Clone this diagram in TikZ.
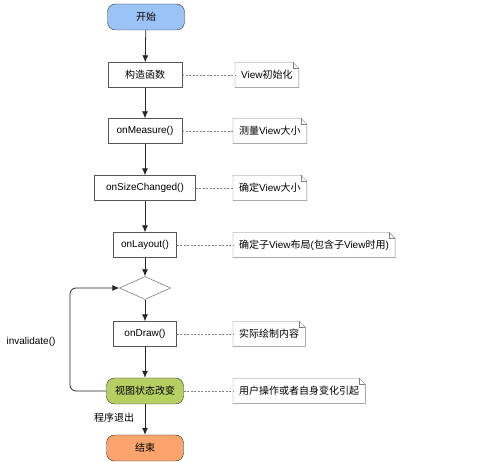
\documentclass[tikz,border=0pt]{standalone}
\usepackage{fontspec}
\setmainfont{Liberation Sans}
\newfontfamily\cjk{Noto Sans CJK SC}
\usetikzlibrary{arrows.meta,shapes.geometric}

\definecolor{startblue}{HTML}{9CC3F5}
\definecolor{changegreen}{HTML}{B5CF62}
\definecolor{endorange}{HTML}{F8A46C}
\definecolor{linegray}{HTML}{555555}

\tikzset{
  box/.style={draw=linegray, rectangle, minimum height=25pt, inner sep=2pt},
  pill/.style={draw=black!80, rounded corners=8pt, minimum width=77pt,
    minimum height=26pt},
  note/.style={anchor=west, minimum height=25pt, inner sep=0pt, inner xsep=6pt,
    append after command={\pgfextra{
      \draw[draw=gray]
        (\tikzlastnode.south west) -- (\tikzlastnode.north west)
        -- ([xshift=-6pt]\tikzlastnode.north east)
        -- ([yshift=-6pt]\tikzlastnode.north east)
        -- (\tikzlastnode.south east) -- cycle;
      \draw[draw=gray]
        ([xshift=-6pt]\tikzlastnode.north east)
        -- ([xshift=-6pt,yshift=-6pt]\tikzlastnode.north east)
        -- ([yshift=-6pt]\tikzlastnode.north east);
    }}},
  flow/.style={draw=black!85, line width=0.8pt, -{Latex[length=7pt,width=6pt]}},
  link/.style={draw=gray, dash pattern=on 2pt off 1.5pt, thick}
}

\begin{document}
\begin{tikzpicture}[x=1pt, y=-1pt, font=\fontsize{10}{12}\selectfont]
  \useasboundingbox (0,0) rectangle (499,462);

  % main flow
  \node (start) [pill, fill=startblue] at (146,17) {\cjk 开始};
  \node (ctor) [box, minimum width=74pt] at (145,75) {\cjk 构造函数};
  \node (measure) [box, minimum width=74pt] at (145,131) {onMeasure()};
  \node (size) [box, minimum width=101pt] at (145,188) {onSizeChanged()};
  \node (layout) [box, minimum width=63pt] at (145,245) {onLayout()};
  \node (dia) [draw=linegray, diamond, aspect=2.2, inner sep=0pt,
    minimum width=51pt, minimum height=23pt] at (145,288) {};
  \node (draw) [box, minimum width=63pt] at (145,334) {onDraw()};
  \node (chg) [pill, fill=changegreen] at (145,391) {\cjk 视图状态改变};
  \node (end) [pill, fill=endorange] at (145,448) {\cjk 结束};

  % notes
  \node (nctor) [note] at (235,75) {View{\cjk 初始化}};
  \node (nmeasure) [note] at (233,131) {{\cjk 测量}View{\cjk 大小}};
  \node (nsize) [note] at (233,188) {{\cjk 确定}View{\cjk 大小}};
  \node (nlayout) [note] at (233,245) {{\cjk 确定子}View{\cjk 布局}({\cjk 包含子}View{\cjk 时用})};
  \node (ndraw) [note] at (233,334) {\cjk 实际绘制内容};
  \node (nchg) [note] at (233,391) {\cjk 用户操作或者自身变化引起};

  % labels
  \node (inval) at (31,342) {invalidate()};
  \node (quit) at (114,418) {\cjk 程序退出};

  \draw[flow] (start) -- (ctor);
  \draw[flow] (ctor) -- (measure);
  \draw[flow] (measure) -- (size);
  \draw[flow] (size) -- (layout);
  \draw[flow] (layout) -- (dia);
  \draw[flow] (dia) -- (draw);
  \draw[flow] (draw) -- (chg);
  \draw[flow] (chg) -- (end);

  \coordinate (loop) at (70,340);
  \draw[flow, rounded corners=6pt] (chg.west) -| (loop) |- (dia.west);

  \draw[link] (ctor) -- (nctor);
  \draw[link] (measure) -- (nmeasure);
  \draw[link] (size) -- (nsize);
  \draw[link] (layout) -- (nlayout);
  \draw[link] (draw) -- (ndraw);
  \draw[link] (chg) -- (nchg);
\end{tikzpicture}
\end{document}
